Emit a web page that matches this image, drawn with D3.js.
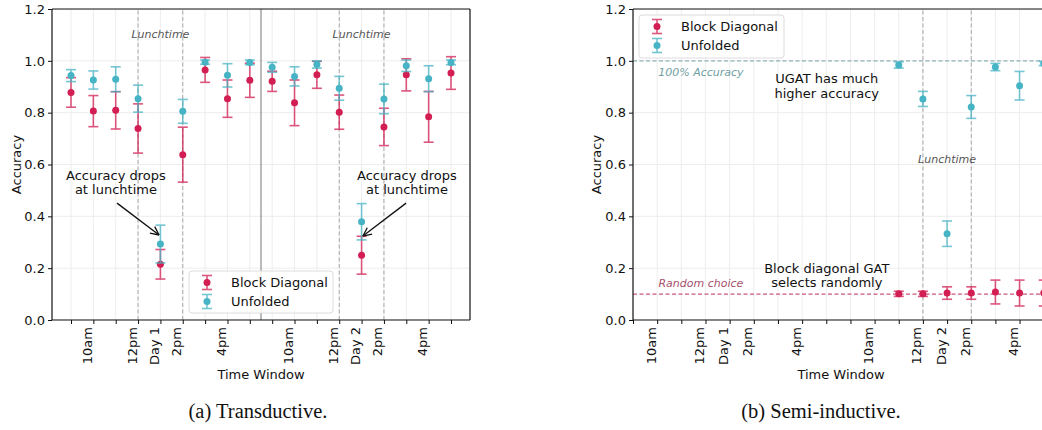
<!DOCTYPE html>
<html><head><meta charset="utf-8">
<script src="https://cdn.jsdelivr.net/npm/d3@7/dist/d3.min.js"></script>
<style>
html,body{margin:0;padding:0;background:#fff;}
svg{display:block;font-family:"DejaVu Sans",sans-serif;}
</style></head>
<body>
<svg id="chart" width="1042" height="430"></svg>
<script>
// ---------- data ----------
const slots = d3.range(18); // 9am..5pm day 1, 9am..5pm day 2
const tickLabels = ["", "10am", "", "12pm", "Day 1", "2pm", "", "4pm", "", "", "10am", "", "12pm", "Day 2", "2pm", "", "4pm", ""];
const yTicks = [0, 0.2, 0.4, 0.6, 0.8, 1.0, 1.2];
const seriesNames = ["Block Diagonal", "Unfolded"];

// (a) Transductive
const bdMeanA = [0.878, 0.806, 0.809, 0.739, 0.215, 0.638, 0.965, 0.854, 0.925, 0.921, 0.838, 0.946, 0.802, 0.250, 0.745, 0.946, 0.784, 0.953];
const bdErrA  = [0.057, 0.060, 0.072, 0.095, 0.057, 0.106, 0.048, 0.072, 0.066, 0.039, 0.088, 0.052, 0.066, 0.073, 0.072, 0.062, 0.098, 0.063];
const unMeanA = [0.943, 0.926, 0.929, 0.854, 0.293, 0.805, 0.995, 0.944, 0.994, 0.975, 0.940, 0.986, 0.894, 0.379, 0.853, 0.981, 0.931, 0.994];
const unErrA  = [0.023, 0.035, 0.048, 0.052, 0.073, 0.046, 0.008, 0.045, 0.009, 0.019, 0.037, 0.014, 0.046, 0.070, 0.057, 0.022, 0.050, 0.009];

// (b) Semi-inductive (only day 2 from 11am)
const slotsB  = [11, 12, 13, 14, 15, 16, 17];
const bdMeanB = [0.101, 0.101, 0.104, 0.104, 0.108, 0.104, 0.104];
const bdErrB  = [0.010, 0.010, 0.024, 0.024, 0.046, 0.050, 0.050];
const unMeanB = [0.984, 0.853, 0.333, 0.822, 0.976, 0.904, 0.990];
const unErrB  = [0.012, 0.029, 0.049, 0.044, 0.014, 0.055, 0.008];

const lunchA = [[3, 5], [12, 14]];
const lunchB = [[12, 14]];

// ---------- style ----------
const RED = "#d21e53", TEAL = "#46b4c4";
const svg = d3.select("#chart");

const y = d3.scaleLinear().domain([0, 1.2]).range([320, 9]);

function panel(opts) {
  const x = d3.scaleLinear().domain(opts.domain).range(opts.range);
  const g = svg.append("g");
  const [X0, X1] = opts.range;
  const clipId = "clip" + opts.id;
  svg.append("clipPath").attr("id", clipId).append("rect")
    .attr("x", X0).attr("y", 9).attr("width", X1 - X0).attr("height", 311);

  const grid = g.append("g").attr("clip-path", `url(#${clipId})`);
  grid.selectAll(".vg").data(slots).join("line")
    .attr("x1", d => x(d)).attr("x2", d => x(d)).attr("y1", y(0)).attr("y2", y(1.2))
    .attr("stroke", "#ebebeb").attr("stroke-width", 0.9);
  grid.selectAll(".hg").data(yTicks).join("line")
    .attr("x1", X0).attr("x2", X1).attr("y1", d => y(d)).attr("y2", d => y(d))
    .attr("stroke", "#ebebeb").attr("stroke-width", 0.9);

  opts.lunch.forEach(([a, b]) => {
    [a, b].forEach(v => grid.append("line")
      .attr("x1", x(v)).attr("x2", x(v)).attr("y1", y(0)).attr("y2", y(1.2))
      .attr("stroke", "#a8a8a8").attr("stroke-width", 1).attr("stroke-dasharray", "4,2.5"));
  });
  return {x, g, grid};
}

function errorSeries(p, xs, means, errs, color) {
  const g = p.grid.append("g");
  const cap = 5;
  xs.forEach((s, i) => {
    const cx = p.x(s), lo = y(means[i] - errs[i]), hi = y(means[i] + errs[i]);
    const e = g.append("g").attr("stroke", color).attr("stroke-width", 1.6).attr("opacity", 0.75);
    e.append("line").attr("x1", cx).attr("x2", cx).attr("y1", lo).attr("y2", hi);
    e.append("line").attr("x1", cx - cap).attr("x2", cx + cap).attr("y1", lo).attr("y2", lo);
    e.append("line").attr("x1", cx - cap).attr("x2", cx + cap).attr("y1", hi).attr("y2", hi);
  });
  g.selectAll("circle").data(xs).join("circle")
    .attr("cx", d => p.x(d)).attr("cy", (d, i) => y(means[i])).attr("r", 3.5).attr("fill", color);
}

function axes(p, opts) {
  const [X0, X1] = opts.range;
  const ya = svg.append("g").attr("transform", `translate(${X0},0)`)
    .call(d3.axisLeft(y).tickValues(yTicks).tickFormat(d3.format(".1f")).tickSize(4).tickPadding(3));
  ya.select(".domain").remove();
  ya.selectAll("text").attr("font-size", 13).attr("fill", "#111").attr("font-family", "DejaVu Sans");
  ya.selectAll("line").attr("stroke", "#111").attr("stroke-width", 1);

  const xa = svg.append("g").attr("transform", `translate(0,${y(0)})`)
    .call(d3.axisBottom(p.x).tickValues(slots).tickFormat(d => tickLabels[d]).tickSize(4));
  xa.select(".domain").remove();
  xa.selectAll("line").attr("stroke", "#111").attr("stroke-width", 1);
  xa.selectAll("text")
    .attr("font-size", 13).attr("fill", "#111").attr("font-family", "DejaVu Sans")
    .attr("text-anchor", "end").attr("dy", null).attr("y", null)
    .attr("transform", "translate(-6.5,7) rotate(-90)")
    .attr("dominant-baseline", "central");

  const f = svg.append("g").attr("stroke", "#111").attr("stroke-width", 1.2).attr("fill", "none");
  f.append("line").attr("x1", X0).attr("x2", X0).attr("y1", y(0)).attr("y2", y(1.2));
  f.append("line").attr("x1", X0).attr("x2", X1).attr("y1", y(0)).attr("y2", y(0));
  f.append("line").attr("x1", X0).attr("x2", X1).attr("y1", y(1.2)).attr("y2", y(1.2));
  if (opts.rightBorder) f.append("line").attr("x1", X1).attr("x2", X1).attr("y1", y(0)).attr("y2", y(1.2));

  svg.append("text").attr("transform", `translate(${opts.ylabX},${(y(0) + y(1.2)) / 2}) rotate(-90)`)
    .attr("text-anchor", "middle").attr("dominant-baseline", "central")
    .attr("font-size", 13).attr("fill", "#111").text("Accuracy");
  svg.append("text").attr("x", opts.xlabX).attr("y", 379)
    .attr("text-anchor", "middle").attr("font-size", 13).attr("fill", "#111").text("Time Window");
}

function legend(x0, y0, w, h) {
  const g = svg.append("g");
  g.append("rect").attr("x", x0).attr("y", y0).attr("width", w).attr("height", h).attr("rx", 3)
    .attr("fill", "#fff").attr("fill-opacity", 0.85).attr("stroke", "#dcdcdc").attr("stroke-width", 1);
  [RED, TEAL].forEach((c, i) => {
    const cy = y0 + 11.5 + i * 19, mx = x0 + 18;
    const e = g.append("g").attr("stroke", c).attr("stroke-width", 1.6).attr("opacity", 0.75);
    e.append("line").attr("x1", mx).attr("x2", mx).attr("y1", cy - 7).attr("y2", cy + 7);
    e.append("line").attr("x1", mx - 5).attr("x2", mx + 5).attr("y1", cy - 7).attr("y2", cy - 7);
    e.append("line").attr("x1", mx - 5).attr("x2", mx + 5).attr("y1", cy + 7).attr("y2", cy + 7);
    g.append("circle").attr("cx", mx).attr("cy", cy).attr("r", 3.5).attr("fill", c);
    g.append("text").attr("x", x0 + 42).attr("y", cy).attr("dominant-baseline", "central")
      .attr("font-size", 13).attr("fill", "#111").text(seriesNames[i]);
  });
}

svg.append("defs").append("marker").attr("id", "arr").attr("viewBox", "0 0 10 10")
  .attr("refX", 9.5).attr("refY", 5).attr("markerWidth", 10).attr("markerHeight", 10)
  .attr("markerUnits", "userSpaceOnUse").attr("orient", "auto")
  .append("path").attr("d", "M1,1 L9.5,5 L1,9").attr("fill", "none").attr("stroke", "#111").attr("stroke-width", 1.3);

// ---------- panel (a) ----------
const optsA = {id: "A", domain: [-0.85, 17.85], range: [52, 470], lunch: lunchA, rightBorder: true, ylabX: 16, xlabX: 261};
const pA = panel(optsA);
pA.grid.append("line").attr("x1", pA.x(8.5)).attr("x2", pA.x(8.5)).attr("y1", y(0)).attr("y2", y(1.2))
  .attr("stroke", "#777").attr("stroke-width", 1);
[4, 13].forEach(s => pA.g.append("text").attr("x", pA.x(s)).attr("y", y(1.103))
  .attr("text-anchor", "middle").attr("dominant-baseline", "central").attr("font-size", 11)
  .attr("font-style", "italic").attr("fill", "#555").text("Lunchtime"));
errorSeries(pA, slots, bdMeanA, bdErrA, RED);
errorSeries(pA, slots, unMeanA, unErrA, TEAL);
axes(pA, optsA);
[[2.01, 2.06, 3.94, 0.328], [15.03, 14.99, 13.06, 0.324]].forEach(([tx, sx, ex, ey]) => {
  ["Accuracy drops", "at lunchtime"].forEach((t, k) => svg.append("text")
    .attr("x", pA.x(tx)).attr("y", y(0.559 - k * 0.054)).attr("text-anchor", "middle")
    .attr("dominant-baseline", "central").attr("font-size", 13).attr("fill", "#111").text(t));
  svg.append("line").attr("x1", pA.x(sx)).attr("y1", y(0.451)).attr("x2", pA.x(ex)).attr("y2", y(ey))
    .attr("stroke", "#111").attr("stroke-width", 1.3).attr("marker-end", "url(#arr)");
});
legend(189, 271, 144, 42);

// ---------- panel (b) ----------
const optsB = {id: "B", domain: [0, 18], range: [633, 633 + 18 * 24.16], lunch: lunchB, rightBorder: false, ylabX: 596, xlabX: 841};
const pB = panel(optsB);
pB.grid.append("line").attr("x1", 633).attr("x2", 1100).attr("y1", y(1.0)).attr("y2", y(1.0))
  .attr("stroke", "#8fb3b7").attr("stroke-width", 1.1).attr("stroke-dasharray", "4,2.5");
pB.grid.append("line").attr("x1", 633).attr("x2", 1100).attr("y1", y(0.1)).attr("y2", y(0.1))
  .attr("stroke", "#c9587a").attr("stroke-width", 1.1).attr("stroke-dasharray", "4,2.5");
pB.g.append("text").attr("x", pB.x(2.81)).attr("y", y(0.954)).attr("text-anchor", "middle")
  .attr("dominant-baseline", "central").attr("font-size", 11).attr("font-style", "italic")
  .attr("fill", "#6f9ea3").text("100% Accuracy");
pB.g.append("text").attr("x", pB.x(2.81)).attr("y", y(0.1416)).attr("text-anchor", "middle")
  .attr("dominant-baseline", "central").attr("font-size", 11).attr("font-style", "italic")
  .attr("fill", "#a5516e").text("Random choice");
pB.g.append("text").attr("x", pB.x(13)).attr("y", y(0.62)).attr("text-anchor", "middle")
  .attr("dominant-baseline", "central").attr("font-size", 11).attr("font-style", "italic")
  .attr("fill", "#555").text("Lunchtime");
[["UGAT has much", "higher accuracy", 0.93], ["Block diagonal GAT", "selects randomly", 0.198]].forEach(([a, b, v]) => {
  [a, b].forEach((t, k) => pB.g.append("text").attr("x", pB.x(8.02)).attr("y", y(v - k * 0.055))
    .attr("text-anchor", "middle").attr("dominant-baseline", "central").attr("font-size", 13)
    .attr("fill", "#111").text(t));
});
errorSeries(pB, slotsB, bdMeanB, bdErrB, RED);
errorSeries(pB, slotsB, unMeanB, unErrB, TEAL);
axes(pB, optsB);
legend(639, 15, 145, 43);

// ---------- captions ----------
svg.append("text").attr("x", 258).attr("y", 418).attr("text-anchor", "middle")
  .attr("font-family", "Liberation Serif, serif").attr("font-size", 20.5).attr("fill", "#111").text("(a) Transductive.");
svg.append("text").attr("x", 821).attr("y", 418).attr("text-anchor", "middle")
  .attr("font-family", "Liberation Serif, serif").attr("font-size", 20.5).attr("fill", "#111").text("(b) Semi-inductive.");
</script>
</body></html>
